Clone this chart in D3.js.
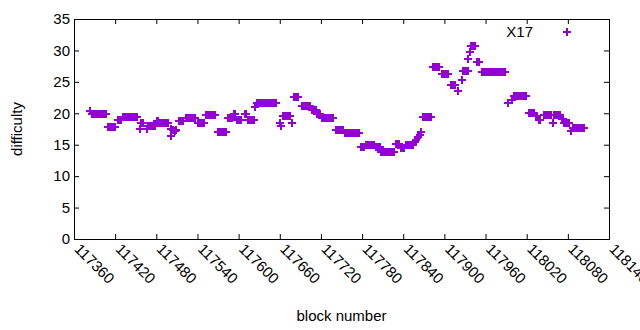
<!DOCTYPE html>
<html lang="en">
<head>
  <meta charset="UTF-8">
  <title>X17 difficulty</title>
  <script src="https://cdn.jsdelivr.net/npm/d3@7"></script>
  <style>
    body { margin: 0; background: #fff; }
    text { font-family: 'Liberation Sans', Arial, sans-serif; fill: #000; }
  </style>
</head>
<body>
  <div id="canvas"></div>
  <script>
    // block numbers of the X17 points (one row per cluster)
    const blocks = [
      117383,
      117386, 117388, 117390, 117392, 117394, 117396, 117398, 117400, 117402, 117404, 117406,
      117410, 117412, 117414, 117416, 117418, 117420,
      117424, 117426, 117428,
      117432, 117434, 117436, 117438, 117440, 117442, 117444, 117446, 117448, 117450, 117452,
      117456, 117457, 117459, 117461, 117466,
      117468, 117470, 117472, 117474, 117476, 117478,
      117481, 117483, 117485, 117487, 117489, 117491, 117493, 117495, 117497,
      117501, 117502, 117505, 117507, 117509,
      117513, 117515, 117517, 117519,
      117523, 117525, 117527, 117529, 117531, 117533, 117535, 117537,
      117541, 117543, 117545, 117547, 117549,
      117552, 117554, 117556, 117558, 117560, 117562, 117564, 117566,
      117570, 117572, 117574, 117576, 117578, 117580, 117582,
      117585, 117587, 117589, 117591, 117593, 117595,
      117598, 117600, 117602, 117604, 117609, 117611,
      117614, 117616, 117618, 117620, 117622, 117624,
      117627, 117629, 117631, 117633, 117635, 117637, 117639, 117641, 117643, 117645, 117647, 117649, 117651, 117653, 117655,
      117660, 117662, 117665, 117667, 117669, 117671, 117673, 117675, 117678,
      117681, 117683, 117685, 117687,
      117692, 117694, 117696, 117698, 117700, 117702, 117704,
      117707, 117709, 117711, 117713, 117715, 117717, 117719,
      117722, 117724, 117726, 117728, 117730, 117732, 117734, 117736, 117738,
      117742, 117744, 117746, 117748, 117750, 117752,
      117755, 117757, 117759, 117761, 117763, 117765, 117767, 117769, 117771, 117773, 117775,
      117779, 117781, 117783, 117786, 117788, 117790,
      117792, 117794, 117796, 117798, 117800, 117802, 117804, 117806,
      117808, 117810, 117812, 117814, 117816, 117818, 117820, 117822, 117824, 117826,
      117830, 117832, 117834, 117837, 117839, 117841,
      117844, 117846, 117848, 117850, 117852, 117854,
      117857, 117859, 117862, 117864, 117866,
      117869, 117871, 117873, 117875, 117877, 117879, 117881,
      117884, 117886, 117888, 117890, 117892,
      117896, 117898, 117900, 117902, 117904, 117906,
      117910, 117912, 117914, 117916, 117920, 117925,
      117927, 117929, 117931, 117933, 117935,
      117934, 117937, 117939, 117941, 117943, 117945,
      117947, 117949, 117951,
      117955, 117957, 117959, 117961, 117963, 117965, 117967, 117969, 117971, 117973, 117975, 117977, 117979, 117981, 117983, 117985, 117987, 117989,
      117993, 117998,
      118001, 118003, 118005, 118007, 118009, 118011, 118013, 118015, 118017, 118019,
      118023, 118025, 118027, 118029, 118031, 118033, 118035,
      118038, 118040, 118045, 118047, 118049, 118051, 118053, 118055, 118058,
      118060, 118062, 118064, 118066, 118068, 118071, 118073,
      118075, 118077, 118079, 118081, 118084,
      118088, 118090, 118092, 118094, 118096, 118098, 118100, 118102, 118104
    ];

    // difficulty at each block above, same rows
    const difficulty = [
      20.4,
      19.9, 19.9, 19.9, 19.9, 19.9, 19.9, 19.9, 19.9, 19.9, 19.9, 19.9,
      17.8, 17.8, 17.8, 17.8, 17.8, 17.8,
      18.9, 18.9, 18.9,
      19.4, 19.4, 19.4, 19.4, 19.4, 19.4, 19.4, 19.4, 19.4, 19.4, 19.4,
      17.5, 18.4, 18.4, 18.4, 17.5,
      17.9, 17.9, 17.9, 17.9, 17.9, 17.9,
      18.8, 18.8, 18.5, 18.5, 18.5, 18.5, 18.5, 18.5, 18.5,
      16.4, 17.5, 17.3, 17.2, 17.3,
      18.8, 18.8, 18.8, 18.8,
      19.2, 19.2, 19.2, 19.2, 19.2, 19.2, 19.2, 19.2,
      18.5, 18.5, 18.5, 18.5, 18.5,
      19.7, 19.7, 19.7, 19.7, 19.7, 19.7, 19.7, 19.7,
      17.0, 17.0, 17.0, 17.0, 17.0, 17.0, 17.0,
      19.2, 19.2, 19.2, 19.2, 19.9, 19.9,
      19.0, 19.0, 19.0, 19.0, 19.9, 19.9,
      19.0, 19.0, 19.0, 19.0, 19.0, 21.0,
      21.6, 21.6, 21.6, 21.6, 21.6, 21.6, 21.6, 21.6, 21.6, 21.6, 21.6, 21.6, 21.6, 21.6, 21.6,
      18.4, 18.0, 19.6, 19.6, 19.6, 19.6, 19.6, 19.6, 18.4,
      22.6, 22.6, 22.6, 22.6,
      21.2, 21.2, 21.2, 21.2, 21.2, 21.2, 21.2,
      20.5, 20.5, 20.5, 20.5, 19.9, 19.9, 19.9,
      19.2, 19.2, 19.2, 19.2, 19.2, 19.2, 19.2, 19.2, 19.2,
      17.4, 17.4, 17.4, 17.4, 17.4, 17.4,
      16.9, 16.9, 16.9, 16.9, 16.9, 16.9, 16.9, 16.9, 16.9, 16.9, 16.9,
      14.6, 14.6, 14.6, 15.0, 15.0, 15.0,
      14.9, 14.9, 14.9, 14.9, 14.6, 14.6, 14.6, 14.6,
      13.8, 13.8, 13.8, 13.8, 13.8, 13.8, 13.8, 13.8, 13.8, 13.8,
      15.1, 15.1, 15.1, 14.5, 14.5, 14.5,
      15.0, 15.0, 15.0, 15.0, 15.0, 15.0,
      15.4, 15.8, 16.2, 16.6, 17.0,
      19.4, 19.4, 19.4, 19.4, 19.4, 19.4, 19.4,
      27.4, 27.4, 27.4, 27.4, 27.4,
      26.2, 26.2, 26.2, 26.2, 26.2, 26.2,
      24.5, 24.5, 24.5, 24.5, 23.5, 25.3,
      26.8, 26.8, 26.8, 26.8, 26.8,
      28.6, 29.8, 30.7, 30.7, 30.7, 30.7,
      28.2, 28.2, 28.2,
      26.5, 26.5, 26.5, 26.5, 26.5, 26.5, 26.5, 26.5, 26.5, 26.5, 26.5, 26.5, 26.5, 26.5, 26.5, 26.5, 26.5, 26.5,
      21.6, 22.1,
      22.7, 22.7, 22.7, 22.7, 22.7, 22.7, 22.7, 22.7, 22.7, 22.7,
      20.0, 20.0, 20.0, 20.0, 20.0, 19.5, 19.5,
      18.9, 18.9, 19.7, 19.7, 19.7, 19.7, 19.7, 19.7, 18.4,
      19.7, 19.7, 19.7, 19.7, 19.7, 19.1, 19.1,
      18.4, 18.4, 18.4, 18.4, 17.2,
      17.7, 17.7, 17.7, 17.7, 17.7, 17.7, 17.7, 17.7, 17.7
    ];

    const xTicks = [117360, 117420, 117480, 117540, 117600, 117660, 117720,
                    117780, 117840, 117900, 117960, 118020, 118080, 118140];
    const yTicks = [0, 5, 10, 15, 20, 25, 30, 35];
    const seriesName = 'X17';

    const width = 640;
    const height = 330;
    const plotLeft = 74, plotRight = 609, plotTop = 19, plotBottom = 239;
    const color = '#9400D3';

    const svg = d3.select('#canvas')
      .append('svg')
      .attr('width', width)
      .attr('height', height);

    const scaleX = d3.scaleLinear()
      .domain([xTicks[0], xTicks[xTicks.length - 1]])
      .range([plotLeft, plotRight]);
    const scaleY = d3.scaleLinear()
      .domain([yTicks[0], yTicks[yTicks.length - 1]])
      .range([plotBottom, plotTop]);

    // axes, ticks pointing inward like gnuplot
    const xAxis = d3.axisBottom(scaleX).tickValues(xTicks).tickFormat(d3.format('d'))
      .tickSizeInner(-5).tickSizeOuter(0);
    const gx = svg.append('g')
      .attr('transform', 'translate(0,' + plotBottom + ')')
      .call(xAxis);
    gx.selectAll('text')
      .style('font-size', '15px')
      .attr('text-anchor', 'start')
      .attr('y', 0).attr('dy', 0)
      .attr('transform', 'translate(-1,11) rotate(45)');

    svg.append('g')
      .attr('transform', 'translate(0,' + plotTop + ')')
      .call(d3.axisTop(scaleX).tickValues(xTicks).tickSizeInner(-5).tickSizeOuter(0).tickFormat(''));

    svg.append('g')
      .attr('transform', 'translate(' + plotLeft + ',0)')
      .call(d3.axisLeft(scaleY).tickValues(yTicks).tickSizeInner(-5).tickSizeOuter(0).tickPadding(4))
      .selectAll('text')
      .style('font-size', '15px');

    svg.append('g')
      .attr('transform', 'translate(' + plotRight + ',0)')
      .call(d3.axisRight(scaleY).tickValues(yTicks).tickSizeInner(-5).tickSizeOuter(0).tickFormat(''));

    svg.selectAll('.domain').remove();
    svg.selectAll('.tick line').attr('stroke', '#000');
    svg.selectAll('.tick text').style('font-family', "'Liberation Sans', Arial, sans-serif").attr('fill', '#000');

    svg.append('rect')
      .attr('x', plotLeft + 0.5).attr('y', plotTop + 0.5)
      .attr('width', plotRight - plotLeft).attr('height', plotBottom - plotTop)
      .attr('fill', 'none').attr('stroke', '#000').attr('stroke-width', 1);

    // points drawn as gnuplot style plus marks
    const plus = 'M-4,0H4M0,-4V4';
    svg.append('g')
      .attr('shape-rendering', 'crispEdges')
      .selectAll('path')
      .data(blocks.map((b, i) => [b, difficulty[i]]))
      .enter()
      .append('path')
      .attr('d', plus)
      .attr('transform', d => 'translate(' + Math.round(scaleX(d[0])) + ',' + Math.round(scaleY(d[1])) + ')')
      .attr('stroke', color)
      .attr('stroke-width', 2)
      .attr('fill', 'none');

    // key
    svg.append('text')
      .attr('x', 533).attr('y', 37)
      .attr('text-anchor', 'end')
      .style('font-size', '15px')
      .text(seriesName);
    svg.append('path')
      .attr('d', plus)
      .attr('shape-rendering', 'crispEdges')
      .attr('transform', 'translate(567,32)')
      .attr('stroke', color)
      .attr('stroke-width', 1.5)
      .attr('fill', 'none');

    // axis titles
    svg.append('text')
      .attr('transform', 'translate(22,' + ((plotTop + plotBottom) / 2) + ') rotate(-90)')
      .attr('text-anchor', 'middle')
      .style('font-size', '15px')
      .text('difficulty');
    svg.append('text')
      .attr('x', (plotLeft + plotRight) / 2)
      .attr('y', 321)
      .attr('text-anchor', 'middle')
      .style('font-size', '15px')
      .text('block number');
  </script>
</body>
</html>
